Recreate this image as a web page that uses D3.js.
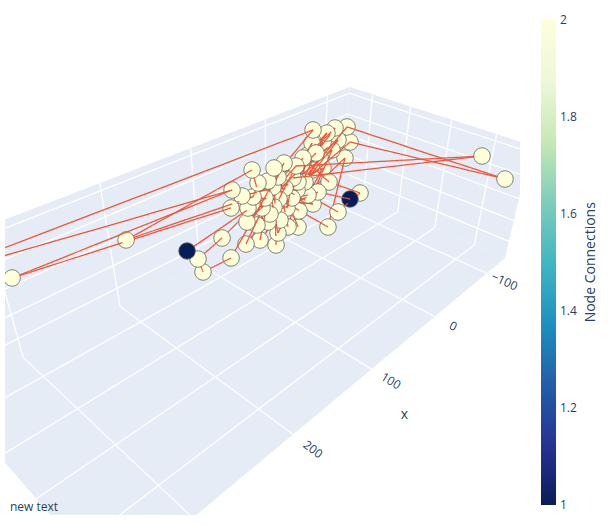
<!DOCTYPE html>
<html><head><meta charset="utf-8">
<script src="https://cdn.jsdelivr.net/npm/d3@7"></script>
<style>body{margin:0;background:#fff;} text{font-family:"Open Sans",verdana,arial,sans-serif;}</style>
</head><body>
<svg id="chart" width="613" height="525"></svg>
<script>
// ---------------- data (nodes listed along the network path) ----------------
const nodeX = [165.9, 69.4, -88.3, 95.7, 43.5, 115.4, 150.0, 154.6, 125.3, -74.4,
  80.6, -68.2, 112.9, 316.4, 110.8, 360.2, -50.3, 91.9, -95.0, 76.8,
  57.2, 54.2, -49.4, 65.6, -110.3, -94.5, -118.0, 57.2, -43.3, 36.7,
  51.7, 21.4, -85.0, 73.6, 85.7, 223.9, 85.1, 78.4, -64.0, 48.6,
  -110.3, -28.3, 50.2, 26.5, -84.6, 30.5, 38.6, -51.0, 20.4, -70.3,
  41.8, 12.5, 58.6, 24.2, 31.4, 7.2, -44.6, -83.1, -26.0,
  16.5, 93.6, -2.9, 51.4, 65.3, -1.3, 99.0, 23.0, 62.8,
  -8.6, -65.0];
const nodeY = [-16.6, -16.6, -60.2, -16.6, -16.6, -16.6, -16.6, -16.6, -16.6, -60.2,
  -16.6, -60.2, -16.6, -16.6, -16.6, -60.2, -60.2, -16.6, -60.2, -16.6,
  -16.6, -16.6, -60.2, -16.6, -60.2, 136.0, -60.2, -16.6, -60.2, -16.6,
  -16.6, -16.6, -60.2, -16.6, -16.6, -16.6, -16.6, -16.6, -60.2, -16.6,
  -60.2, -16.6, -16.6, -16.6, 114.2, -16.6, -16.6, -60.2, -16.6, -60.2,
  -16.6, -16.6, -16.6, -16.6, -16.6, -16.6, -16.6, -16.6, -16.6,
  -16.6, -16.6, -16.6, -16.6, -16.6, -16.6, -16.6, -16.6, -16.6,
  -16.6, -16.6];
const nodeZ = [11.1, 39.3, 58.8, -37.1, 92.4, -49.7, -47.2, -15.6, 1.6, 55.3,
  -8.8, 38.3, 52.3, 104.4, 85.9, 100.3, 76.1, 35.9, 26.9, -44.8,
  91.5, -75.9, 47.4, -14.6, 48.7, 75.0, 8.3, 11.1, 23.8, -49.6,
  69.7, -62.4, 9.2, 21.7, 106.8, 83.4, 53.2, 76.3, 5.8, -24.1,
  -26.4, -103.8, 22.8, 75.0, 112.6, 52.8, -5.6, -16.5, -26.4, -24.6,
  39.8, 31.7, 54.0, 22.8, 10.8, -0.7, -80.0, -62.7, 4.5,
  85.0, 8.3, 82.9, -50.9, 71.0, -27.4, 65.5, 39.1, 0.4,
  -5.6, -64.0];
const edgeSource = [0,1,2,3,4,5,6,7,8,9,10,11,12,13,14,15,16,17,18,19,
  20,21,22,23,24,25,26,27,28,29,30,31,32,33,34,35,36,37,38,39,
  40,41,42,43,44,45,46,47,48,49,50,51,52,53,54,55,56,57,58,59,
  60,61,62,63,64,65,66,67,68];
const edgeTarget = [1,2,3,4,5,6,7,8,9,10,11,12,13,14,15,16,17,18,19,20,
  21,22,23,24,25,26,27,28,29,30,31,32,33,34,35,36,37,38,39,40,
  41,42,43,44,45,46,47,48,49,50,51,52,53,54,55,56,57,58,59,60,
  61,62,63,64,65,66,67,68,69];
const xTicks = [-100, 0, 100, 200, 300];
const yTicks = [-50, 0, 50, 100];
const zTicks = [-100, -50, 0, 50, 100];
const colorTicks = [1, 1.2, 1.4, 1.6, 1.8, 2];
const colorRange = [1, 2];
const colorbarTitle = "Node Connections";
const xTitle = "x";
const annotationText = "new text";
const ylgnbu = [[0,"rgb(8,29,88)"],[0.125,"rgb(37,52,148)"],[0.25,"rgb(34,94,168)"],
  [0.375,"rgb(29,145,192)"],[0.5,"rgb(65,182,196)"],[0.625,"rgb(127,205,187)"],
  [0.75,"rgb(199,233,180)"],[0.875,"rgb(237,248,217)"],[1,"rgb(255,255,217)"]];
const xRange = [-140, 365], yRange = [-82, 136], zRange = [-141, 114];

// ---------------- view ----------------
const camera = [
  [-375.6, 86.25, -23.8, 343],
  [62.64, 31.3, -108.5, 188],
  [-0.36865, -0.15, -0.087, 1]
];
function proj(a, b, c) {
  const P = camera;
  const U = P[0][0]*a + P[0][1]*b + P[0][2]*c + P[0][3];
  const V = P[1][0]*a + P[1][1]*b + P[1][2]*c + P[1][3];
  const W = P[2][0]*a + P[2][1]*b + P[2][2]*c + P[2][3];
  return [U/W, V/W, W];
}
const xs = d3.scaleLinear().domain(xRange).range([0, 1]);
const ys = d3.scaleLinear().domain(yRange).range([0, 1]);
const zs = d3.scaleLinear().domain(zRange).range([0, 1]);
const textColor = "#2a3f5f";
const clip = { x: 5, y: 10, w: 515, h: 505 };

const svg = d3.select("#chart");
const defs = svg.append("defs");
defs.append("clipPath").attr("id", "sceneClip").append("rect")
  .attr("x", clip.x).attr("y", clip.y).attr("width", clip.w).attr("height", clip.h);
const scene = svg.append("g").attr("clip-path", "url(#sceneClip)");

// panes
const panes = [
  [[0,0,0],[1,0,0],[1,1,0],[0,1,0]],
  [[0,0,0],[1,0,0],[1,0,1],[0,0,1]],
  [[0,0,0],[0,1,0],[0,1,1],[0,0,1]]
];
scene.selectAll("path.pane").data(panes).join("path").attr("class", "pane")
  .attr("d", d => "M" + d.map(p => proj(...p).slice(0, 2).join(",")).join("L") + "Z")
  .attr("fill", "#E5ECF6");

// grid lines
const grid = [];
xTicks.forEach(t => { const a = xs(t); grid.push([[a,0,0],[a,1,0]], [[a,0,0],[a,0,1]]); });
yTicks.forEach(t => { const b = ys(t); grid.push([[0,b,0],[1,b,0]], [[0,b,0],[0,b,1]]); });
zTicks.forEach(t => { const c = zs(t); grid.push([[0,0,c],[1,0,c]], [[0,0,c],[0,1,c]]); });
scene.selectAll("line.grid").data(grid).join("line").attr("class", "grid")
  .each(function(d) {
    const p = proj(...d[0]), q = proj(...d[1]);
    d3.select(this).attr("x1", p[0]).attr("y1", p[1]).attr("x2", q[0]).attr("y2", q[1]);
  })
  .attr("stroke", "#fff").attr("stroke-width", 1.3);

// x tick labels (only those inside the scene viewport) and title
const tickOff = 0.09;
const visibleTicks = xTicks.filter(t => {
  const p = proj(xs(t), 1 + tickOff, 0);
  return p[0] > clip.x + 15 && p[0] < clip.x + clip.w - 15 && p[1] > clip.y + 10 && p[1] < clip.y + clip.h - 10;
});
scene.selectAll("text.xtick").data(visibleTicks).join("text").attr("class", "xtick")
  .each(function(t) {
    const a = xs(t);
    const p = proj(a, 1 + tickOff, 0), q = proj(a, 1 + tickOff + 0.01, 0);
    const ang = Math.atan2(q[1] - p[1], q[0] - p[0]) * 180 / Math.PI;
    d3.select(this).attr("transform", `translate(${p[0]},${p[1]}) rotate(${ang})`);
  })
  .attr("text-anchor", "middle").attr("dy", "0.35em")
  .attr("font-size", 12).attr("fill", textColor)
  .text(t => t < 0 ? "\u2212" + Math.abs(t) : String(t));
const tp = proj(0.52, 1.22, 0);
scene.append("text").attr("x", tp[0]).attr("y", tp[1]).attr("dy", "0.35em")
  .attr("text-anchor", "middle").attr("font-size", 14).attr("fill", textColor).text(xTitle);

// data: nodes and edges, painted far to near
const n = nodeX.length;
const nodes = nodeX.map((x, i) => ({ a: xs(x), b: ys(nodeY[i]), c: zs(nodeZ[i]) }));
const degree = new Array(n).fill(0);
edgeSource.forEach((s, k) => { degree[s]++; degree[edgeTarget[k]]++; });
const color = d3.scaleLinear()
  .domain(ylgnbu.map(s => colorRange[0] + s[0] * (colorRange[1] - colorRange[0])))
  .range(ylgnbu.map(s => s[1])).interpolate(d3.interpolateRgb);

const items = [];
const SUB = 16;
edgeSource.forEach((s, k) => {
  const A = nodes[s], B = nodes[edgeTarget[k]];
  for (let j = 0; j < SUB; j++) {
    const t0 = j / SUB, t1 = (j + 1) / SUB;
    const p = proj(A.a + (B.a - A.a) * t0, A.b + (B.b - A.b) * t0, A.c + (B.c - A.c) * t0);
    const q = proj(A.a + (B.a - A.a) * t1, A.b + (B.b - A.b) * t1, A.c + (B.c - A.c) * t1);
    items.push({ type: "seg", p, q, depth: (p[2] + q[2]) / 2 });
  }
});
nodes.forEach((d, i) => {
  const p = proj(d.a, d.b, d.c);
  items.push({ type: "node", p, depth: p[2], fill: color(degree[i]) });
});
items.sort((u, v) => v.depth - u.depth);
const dataG = scene.append("g");
items.forEach(it => {
  if (it.type === "seg") {
    dataG.append("line").attr("x1", it.p[0]).attr("y1", it.p[1]).attr("x2", it.q[0]).attr("y2", it.q[1])
      .attr("stroke", "#EF553B").attr("stroke-width", 1.3);
  } else {
    dataG.append("circle").attr("cx", it.p[0]).attr("cy", it.p[1]).attr("r", 8.3)
      .attr("fill", it.fill).attr("stroke", "#66665a").attr("stroke-width", 0.8);
  }
});

// colorbar
const cbTop = 19.5, cbBottom = 505, cbX = 541, cbW = 15;
const grad = defs.append("linearGradient").attr("id", "cbGrad")
  .attr("x1", 0).attr("y1", 1).attr("x2", 0).attr("y2", 0);
grad.selectAll("stop").data(ylgnbu).join("stop")
  .attr("offset", d => d[0]).attr("stop-color", d => d[1]);
svg.append("rect").attr("x", cbX).attr("y", cbTop).attr("width", cbW).attr("height", cbBottom - cbTop)
  .attr("fill", "url(#cbGrad)");
const cy = d3.scaleLinear().domain(colorRange).range([cbBottom, cbTop]);
svg.selectAll("text.cbtick").data(colorTicks).join("text").attr("class", "cbtick")
  .attr("x", 560).attr("y", d => cy(d)).attr("dy", "0.35em")
  .attr("font-size", 12).attr("fill", textColor).text(d => String(d));
svg.append("text").attr("transform", `translate(590,${(cbTop + cbBottom) / 2}) rotate(-90)`)
  .attr("text-anchor", "middle").attr("dy", "0.35em").attr("font-size", 14).attr("fill", textColor)
  .text(colorbarTitle);

// annotation
svg.append("text").attr("x", 10).attr("y", 507).attr("dy", "0.35em")
  .attr("font-size", 12).attr("fill", textColor).text(annotationText);
</script>
</body></html>
